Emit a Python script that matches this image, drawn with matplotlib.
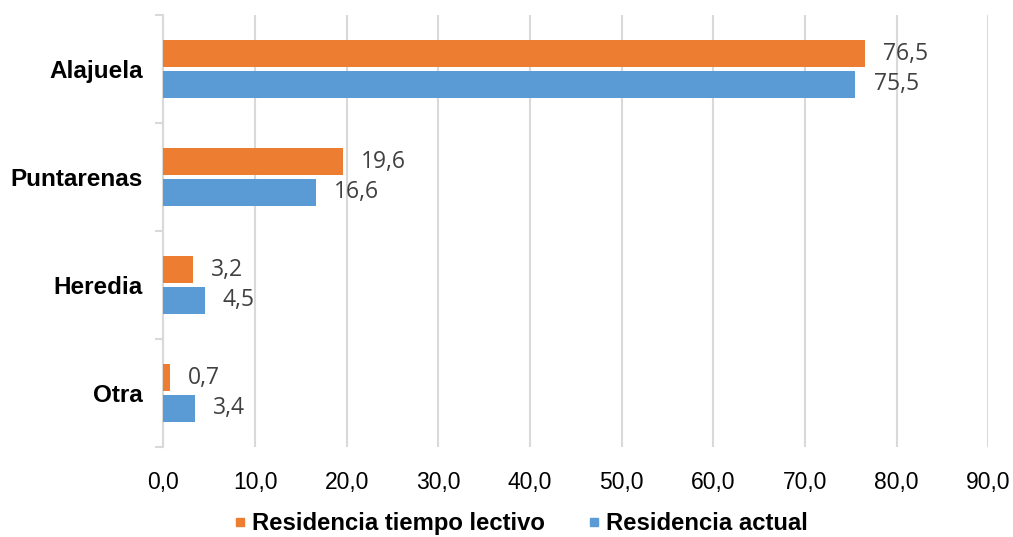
import matplotlib.pyplot as plt
import numpy as np
from matplotlib.lines import Line2D
from matplotlib.ticker import FuncFormatter

# datos del gráfico (porcentaje por provincia)
provincias = ["Alajuela", "Puntarenas", "Heredia", "Otra"]
tiempo_lectivo = [76.5, 19.6, 3.2, 0.7]
actual = [75.5, 16.6, 4.5, 3.4]
series_nombres = ["Residencia tiempo lectivo", "Residencia actual"]

COLOR_NARANJA = "#ED7D31"
COLOR_AZUL = "#5B9BD5"
GRIS = "#D9D9D9"


def _coma(v, _pos=None):
    return f"{v:.1f}".replace(".", ",")


fig = plt.figure(figsize=(10.13, 5.37), dpi=100)
ax = fig.add_axes([0.1614, 0.1676, 0.8143, 0.8044])

y = np.arange(len(provincias))
alto = 0.25
desp = 0.143
b1 = ax.barh(y - desp, tiempo_lectivo, height=alto, color=COLOR_NARANJA, zorder=3)
b2 = ax.barh(y + desp, actual, height=alto, color=COLOR_AZUL, zorder=3)

for barras, vals in ((b1, tiempo_lectivo), (b2, actual)):
    for rect, v in zip(barras, vals):
        ax.annotate(_coma(v), (v, rect.get_y() + rect.get_height() / 2),
                    xytext=(13, 0), textcoords="offset points",
                    va="center", ha="left", fontsize=16.5, color="#404040",
                    family=["Open Sans", "DejaVu Sans"])

ax.set_xlim(0, 90)
ax.set_xticks(np.arange(0, 91, 10))
ax.xaxis.set_major_formatter(FuncFormatter(_coma))
ax.set_ylim(3.5, -0.5)
ax.set_yticks(y)
ax.set_yticklabels(provincias, fontweight="bold", fontsize=17.5, family="Liberation Sans")
ax.set_yticks(np.arange(-0.5, 3.6, 1), minor=True)
ax.tick_params(axis="y", which="major", length=0, pad=15)
ax.tick_params(axis="y", which="minor", length=6, width=1.5, color=GRIS)
ax.tick_params(axis="x", length=0, pad=17, labelsize=16.5)
for lab in ax.get_xticklabels():
    lab.set_family("Liberation Sans")

ax.grid(axis="x", color=GRIS, linewidth=1.5, zorder=0)
for s in ("top", "right", "bottom"):
    ax.spines[s].set_visible(False)
ax.spines["left"].set_color(GRIS)
ax.spines["left"].set_linewidth(1.5)

handles = [Line2D([], [], marker="s", linestyle="none", markersize=6.2,
                  markerfacecolor=c, markeredgecolor=c)
           for c in (COLOR_NARANJA, COLOR_AZUL)]
fig.legend(handles, series_nombres, loc="center", bbox_to_anchor=(0.515, 0.025),
           ncol=2, frameon=False, handlelength=0.35,
           handletextpad=0.33, columnspacing=1.88,
           prop={"family": "Liberation Sans", "weight": "bold", "size": 17.2})

fig.savefig("out.png", dpi=100)
